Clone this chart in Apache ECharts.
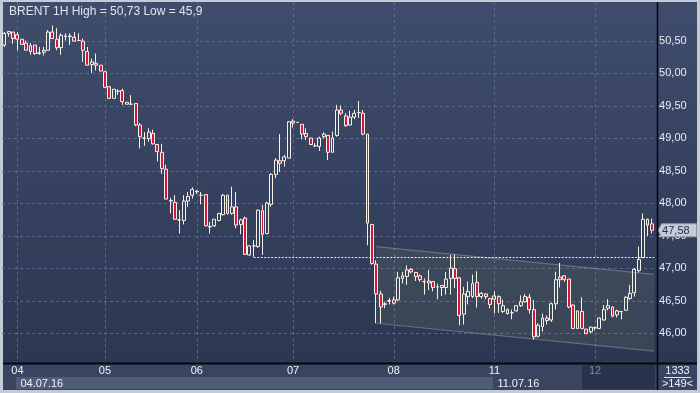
<!DOCTYPE html>
<html><head><meta charset="utf-8">
<script src="https://cdn.jsdelivr.net/npm/echarts@6/dist/echarts.min.js"></script>
<style>html,body{margin:0;padding:0;background:#c3cbd6;overflow:hidden}#c{width:700px;height:393px}</style>
</head><body><div id="c"></div>
<script>
// ---------------- data ----------------
const titleText = 'BRENT 1H High = 50,73 Low = 45,9';
const opens = [50.43,50.61,50.63,50.59,50.52,50.46,50.33,50.43,50.30,50.32,50.35,50.63,50.52,50.39,50.56,50.56,50.55,50.50,50.49,50.33,
50.13,50.15,50.12,50.02,49.79,49.61,49.72,49.73,49.55,49.52,49.53,49.20,49.00,48.99,49.07,48.90,48.78,48.52,48.03,48.01,
47.74,47.73,48.03,48.12,48.17,48.12,48.13,47.63,47.65,47.73,47.82,48.12,47.84,47.94,47.67,47.77,47.20,47.34,47.33,47.88,
47.53,47.98,48.44,48.65,48.65,48.69,49.26,49.24,49.21,49.07,49.00,48.88,48.87,49.02,49.04,48.78,49.04,49.43,49.34,49.20,
49.32,49.39,49.38,49.06,47.67,47.06,46.60,46.44,46.49,46.51,46.51,46.84,46.87,46.98,46.93,46.88,46.79,46.77,46.79,46.71,
46.70,46.70,46.84,46.99,46.85,46.29,46.56,46.56,46.78,46.56,46.60,46.53,46.52,46.56,46.33,46.36,46.31,46.34,46.42,46.48,
46.55,46.36,45.95,46.10,46.23,46.20,46.45,46.86,46.88,46.83,46.43,46.07,46.33,46.06,46.02,46.08,46.07,46.20,46.38,46.40,
46.28,46.33,46.35,46.53,46.62,46.96,47.16,47.75,47.68];
const closes = [50.61,50.64,50.53,50.52,50.44,50.35,50.42,50.30,50.31,50.35,50.63,50.53,50.39,50.58,50.57,50.57,50.49,50.50,50.35,50.12,
50.17,50.12,50.03,49.78,49.61,49.75,49.72,49.56,49.52,49.52,49.20,49.02,49.00,49.09,48.91,48.79,48.53,48.06,48.04,47.75,
47.74,48.03,48.10,48.21,48.18,48.12,47.65,47.64,47.75,47.84,48.12,47.84,47.94,47.66,47.74,47.21,47.34,47.34,47.89,47.52,
48.00,48.44,48.66,48.61,48.71,49.25,49.23,49.24,49.06,49.02,48.90,48.88,49.00,49.06,48.78,49.00,49.43,49.38,49.19,49.32,
49.38,49.39,49.06,47.69,47.07,46.60,46.40,46.45,46.50,46.46,46.85,46.88,46.97,46.94,46.87,46.82,46.79,46.80,46.70,46.71,
46.73,46.83,47.00,46.84,46.27,46.60,46.64,46.76,46.56,46.61,46.56,46.44,46.57,46.45,46.42,46.30,46.31,46.42,46.48,46.56,
46.36,45.94,46.12,46.23,46.19,46.45,46.82,46.82,46.82,46.40,46.07,46.34,46.07,45.99,46.09,46.08,46.23,46.36,46.42,46.26,
46.34,46.33,46.55,46.61,46.98,47.13,47.75,47.66,47.58];
const lows = [50.40,50.56,50.45,50.35,50.44,50.35,50.28,50.28,50.28,50.27,50.35,50.53,50.35,50.28,50.50,50.43,50.48,50.50,50.17,50.12,
50.00,50.04,50.03,49.78,49.60,49.61,49.66,49.51,49.52,49.52,49.18,48.84,48.88,48.94,48.90,48.64,48.45,48.06,47.84,47.75,
47.53,47.67,47.94,48.07,48.14,47.98,47.64,47.53,47.63,47.72,47.81,47.82,47.82,47.61,47.52,47.20,47.19,47.17,47.31,47.20,
47.52,47.94,48.38,48.48,48.56,48.69,49.16,49.24,48.98,48.97,48.90,48.86,48.80,48.99,48.66,48.78,49.02,49.35,49.17,49.19,
49.29,49.31,49.04,47.35,47.05,46.15,46.15,46.38,46.44,46.44,46.49,46.76,46.74,46.92,46.80,46.79,46.59,46.66,46.64,46.52,
46.57,46.59,46.59,46.69,46.12,46.13,46.44,46.54,46.39,46.53,46.52,46.38,46.30,46.31,46.31,46.28,46.21,46.33,46.40,46.47,
46.30,45.90,45.93,46.02,46.13,46.17,46.36,46.70,46.79,46.38,46.06,46.06,46.06,45.99,46.00,46.04,46.06,46.19,46.35,46.24,
46.24,46.21,46.34,46.51,46.56,46.93,47.15,47.49,47.53];
const highs = [50.63,50.64,50.63,50.63,50.52,50.50,50.46,50.43,50.40,50.40,50.66,50.73,50.69,50.61,50.61,50.61,50.63,50.61,50.53,50.40,
50.22,50.30,50.12,50.02,49.80,49.75,49.75,49.76,49.55,49.66,49.53,49.23,49.09,49.15,49.13,48.91,48.91,48.59,48.08,48.12,
47.89,48.12,48.17,48.24,48.20,48.17,48.13,47.71,47.75,47.84,48.14,48.12,48.25,48.17,47.76,47.79,47.35,47.43,47.90,47.97,
48.02,48.46,48.69,49.06,48.74,49.26,49.29,49.24,49.21,49.15,49.00,48.92,49.02,49.09,49.04,49.10,49.51,49.50,49.38,49.42,
49.43,49.57,49.43,49.06,47.67,47.12,46.65,46.48,46.54,46.56,46.94,46.94,47.04,47.00,46.94,46.90,46.84,46.97,46.80,46.76,
46.74,46.94,47.20,47.21,46.85,46.71,46.79,46.90,46.95,46.63,46.61,46.54,46.64,46.58,46.51,46.38,46.36,46.43,46.58,46.60,
46.60,46.51,46.15,46.30,46.27,46.47,46.94,47.08,46.89,46.83,46.44,46.34,46.55,46.06,46.10,46.10,46.24,46.43,46.52,46.41,
46.36,46.33,46.57,46.74,47.00,47.33,47.84,47.76,47.76];
const dayStartIdx = [3, 23, 44, 66, 89, 112, 135];
const dayLabels = ['04', '05', '06', '07', '08', '11', '12'];
const weekStartIdx = [3, 112];
const weekLabels = ['04.07.16', '11.07.16'];
const yTicks = [46, 46.5, 47, 47.5, 48, 48.5, 49, 49.5, 50, 50.5];
const supportLevel = [57, 47.17];            // [start index, price]
const channelUpper = [[85, 47.33], [148, 46.905]];
const channelLower = [[85, 46.15], [148, 45.726]];
const lastPrice = 47.58;
const barCountText = '1333';
const visibleCountText = '>149<';

// ---------------- chart ----------------
const FONT = '"Liberation Sans Narrow","Liberation Sans",Arial,sans-serif';
const N = opens.length;
const cats = opens.map((_, i) => String(i));
const candles = opens.map((o, i) => [o, closes[i], lows[i], highs[i]]);
const fmt = v => v.toFixed(2).replace('.', ',');
const chart = echarts.init(document.getElementById('c'), null, {renderer: 'canvas'});

const bgGrad = {type: 'linear', x: 0, y: 0, x2: 0, y2: 1,
  colorStops: [{offset: 0, color: '#3f4c6b'}, {offset: 1, color: '#2c3752'}]};

chart.setOption({
  animation: false,
  backgroundColor: '#c3cbd6',
  title: {text: titleText, left: 4, top: 1,
    textStyle: {color: '#dfe6f0', fontSize: 12, fontWeight: 'normal', fontFamily: FONT}},
  grid: {left: 2.1, right: 45.9, top: 1.5, bottom: 27.5, containLabel: false},
  xAxis: [{
    type: 'category', data: cats, boundaryGap: true,
    axisLine: {show: false}, axisTick: {show: false}, splitLine: {show: false},
    axisLabel: {
      interval: (i) => dayStartIdx.includes(i),
      formatter: (v) => { const k = dayStartIdx.indexOf(+v); return k >= 0 ? dayLabels[k] : ''; },
      color: (v) => (+v === dayStartIdx[dayStartIdx.length - 1] ? '#7e8ba4' : '#eef2f8'),
      fontSize: 11, fontFamily: FONT, margin: 0
    }
  }],
  yAxis: [{
    type: 'value', position: 'right', min: 45.5, max: 51.1, interval: 0.5, scale: true,
    axisLine: {show: false}, axisTick: {show: false}, splitLine: {show: false},
    axisLabel: {
      margin: 5, color: '#e6ecf5', fontSize: 11, fontFamily: FONT,
      formatter: (v) => yTicks.some(t => Math.abs(t - v) < 1e-6) ? fmt(v) : ''
    }
  }],
  graphic: [
    {type: 'rect', z: -100, shape: {x: 3, y: 2, width: 694, height: 362}, style: {fill: bgGrad}},
    {type: 'rect', z: -90, shape: {x: 3, y: 364, width: 694, height: 26}, style: {fill: '#394560'}},
    {type: 'rect', z: -80, shape: {x: 582, y: 365, width: 73, height: 24}, style: {fill: '#28324a'}},
    {type: 'line', z: 60, shape: {x1: 3, y1: 363.5, x2: 697, y2: 363.5}, style: {stroke: '#05070c', lineWidth: 2}},
    {type: 'line', z: 60, shape: {x1: 657.5, y1: 2, x2: 657.5, y2: 390}, style: {stroke: '#05070c', lineWidth: 1.5}},
    {type: 'line', z: 60, shape: {x1: 664, y1: 377.5, x2: 691, y2: 377.5}, style: {stroke: '#dfe6f0', lineWidth: 1}},
    {type: 'text', z: 60, style: {text: barCountText, x: 677.5, y: 371, fill: '#eef2f8', font: '11px ' + FONT,
      align: 'center', verticalAlign: 'middle', textAlign: 'center', textVerticalAlign: 'middle'}},
    {type: 'text', z: 60, style: {text: visibleCountText, x: 677.5, y: 384, fill: '#eef2f8', font: '11px ' + FONT,
      align: 'center', verticalAlign: 'middle', textAlign: 'center', textVerticalAlign: 'middle'}}
  ],
  series: [
    { // horizontal grid
      type: 'custom', z: 1, silent: true, clip: false,
      data: yTicks.map(v => [0, v]),
      renderItem: (params, api) => {
        const cs = params.coordSys; const p = api.coord([0, api.value(1)]);
        const y = Math.round(p[1]) + 0.5;
        return {type: 'line', shape: {x1: cs.x, y1: y, x2: cs.x + cs.width, y2: y},
          style: {stroke: '#5a6989', lineWidth: 1, lineDash: [3, 3]}};
      }
    },
    { // vertical grid
      type: 'custom', z: 1, silent: true, clip: false,
      data: dayStartIdx.map(i => [i, 48]),
      renderItem: (params, api) => {
        const p = api.coord([api.value(0), 48]);
        const x = Math.round(p[0]) + 0.5;
        return {type: 'line', shape: {x1: x, y1: 2, x2: x, y2: 363},
          style: {stroke: '#5a6989', lineWidth: 1, lineDash: [3, 3]}};
      }
    },
    { // week band + labels
      type: 'custom', z: 3, silent: true, clip: false,
      data: weekStartIdx.map((i, k) => [i, 48, k]),
      renderItem: (params, api) => {
        const k = api.value(2);
        const cs = params.coordSys;
        const x0 = api.coord([api.value(0), 48])[0];
        const yb = cs.y + cs.height;
        const children = [];
        if (k < weekStartIdx.length - 1) {
          const x1 = api.coord([weekStartIdx[k + 1], 48])[0];
          children.push({type: 'rect', shape: {x: x0 - 1.5, y: yb + 11.5, width: x1 - x0, height: 12},
            style: {fill: '#4f5c78'}});
        }
        children.push({type: 'text', style: {text: weekLabels[k], x: x0 + 3, y: yb + 18, fill: '#eef2f8',
          font: '11px ' + FONT, align: 'left', verticalAlign: 'middle', textAlign: 'left', textVerticalAlign: 'middle'}});
        return {type: 'group', children};
      }
    },
    { // descending channel
      type: 'custom', z: 2, silent: true, clip: false,
      data: [[channelUpper[0][0], channelUpper[0][1]]],
      renderItem: (params, api) => {
        const cs = params.coordSys; const xr = cs.x + cs.width;
        const u1 = api.coord(channelUpper[0]), u2 = api.coord(channelUpper[1]);
        const l1 = api.coord(channelLower[0]), l2 = api.coord(channelLower[1]);
        const ext = (a, b) => [xr, a[1] + (b[1] - a[1]) * (xr - a[0]) / (b[0] - a[0])];
        const ue = ext(u1, u2), le = ext(l1, l2);
        return {type: 'group', children: [
          {type: 'polygon', shape: {points: [u1, ue, le, l1]}, style: {fill: 'rgba(110,124,100,0.2)'}},
          {type: 'line', shape: {x1: u1[0], y1: u1[1], x2: ue[0], y2: ue[1]}, style: {stroke: 'rgba(140,150,160,0.55)', lineWidth: 1.2}},
          {type: 'line', shape: {x1: l1[0], y1: l1[1], x2: le[0], y2: le[1]}, style: {stroke: 'rgba(140,150,160,0.55)', lineWidth: 1.2}}
        ]};
      }
    },
    { // support line
      type: 'custom', z: 4, silent: true, clip: false,
      data: [supportLevel],
      renderItem: (params, api) => {
        const cs = params.coordSys;
        const p = api.coord([api.value(0), api.value(1)]);
        const y = Math.round(p[1]) + 0.5;
        return {type: 'line', shape: {x1: p[0], y1: y, x2: cs.x + cs.width, y2: y},
          style: {stroke: '#e9edf3', lineWidth: 1, lineDash: [2, 1.5]}};
      }
    },
    {
      type: 'candlestick', z: 5, data: candles, barWidth: 3.4,
      itemStyle: {color: 'rgba(0,0,0,0)', color0: '#d9153f', borderColor: '#f6f1e4', borderColor0: '#f6f1e4', borderWidth: 1}
    },
    { // last price marker
      type: 'custom', z: 20, silent: true, clip: false,
      data: [[N - 1, lastPrice]],
      renderItem: (params, api) => {
        const cs = params.coordSys; const x0 = cs.x + cs.width;
        const y = api.coord([api.value(0), api.value(1)])[1];
        return {type: 'group', children: [
          {type: 'polygon', shape: {points: [[x0 + 4, y], [x0 + 7.5, y - 6.5], [x0 + 42.5, y - 6.5], [x0 + 42.5, y + 6.5], [x0 + 7.5, y + 6.5]]},
            style: {fill: '#c6cdd8', stroke: '#8f9aab', lineWidth: 1}},
          {type: 'text', style: {text: fmt(api.value(1)), x: x0 + 8, y: y + 0.5, fill: '#1b2b49', font: '11px ' + FONT,
            align: 'left', verticalAlign: 'middle', textAlign: 'left', textVerticalAlign: 'middle'}}
        ]};
      }
    }
  ]
});
</script></body></html>
